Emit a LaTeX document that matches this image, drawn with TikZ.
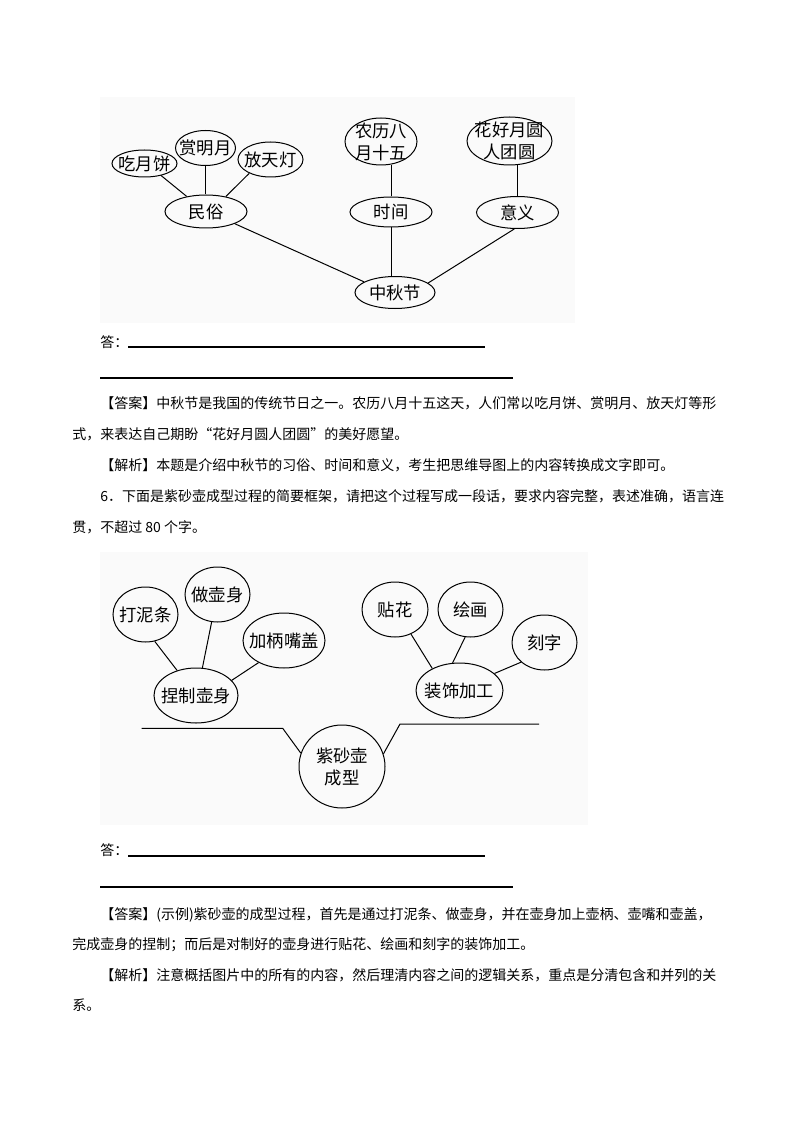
\documentclass[tikz,border=0pt]{standalone}
\usepackage{fontspec}
\usetikzlibrary{shapes.geometric}
\setmainfont{Noto Sans CJK SC}
\newdimen\pxu \pxu=0.75pt
\XeTeXlinebreaklocale "zh"
\XeTeXlinebreakskip=0pt plus 2pt
\definecolor{panelbg}{HTML}{FAFAFA}
\begin{document}
\begin{tikzpicture}[x=0.75pt,y=-0.75pt,
  ell/.style 2 args={draw, ellipse, line width=0.75pt, inner sep=0pt,
    minimum width=#1*0.75pt, minimum height=#2*0.75pt},
  every label/.style={align=center, inner sep=0pt,
    font=\fontsize{13pt}{16.5pt}\selectfont},
  link/.style={line width=0.75pt},
  txt/.style={anchor=west, inner sep=0pt, font=\fontsize{10.5pt}{12pt}\selectfont},
  uline/.style={line width=0.8pt}]
\useasboundingbox (0,0) rectangle (794,1123);
\fill[white] (0,0) rectangle (794,1123);
% ---------- panel 1 ----------
\fill[panelbg] (100,97) rectangle (575,323);
\node[ell={65}{27}, label=center:吃月饼] (chi) at (144.5,163.5) {};
\node[ell={60}{35}, label=center:赏明月] (shang) at (205.5,148) {};
\node[ell={65}{35}, label=center:放天灯] (fang) at (270.5,159.5) {};
\node[ell={82}{33}, label=center:民俗] (minsu) at (206,211.5) {};
\node[ell={72}{47}, label={center:农历八\\月十五}] (nongli) at (381,141.5) {};
\node[ell={82}{30}, label=center:时间] (shijian) at (391,212) {};
\node[ell={85}{48}, label={center:花好月圆\\人团圆}] (huahao) at (509.5,141) {};
\node[ell={82}{32}, label=center:意义] (yiyi) at (517.5,212.5) {};
\node[ell={80}{32}, label=center:中秋节] (zhongqiu) at (395,292.5) {};
\draw[link] (chi.-36) -- (minsu.142);
\draw[link] (shang.south) -- (shang.south |- minsu.north);
\draw[link] (fang.213) -- (minsu.37);
\draw[link] (shijian.north) -- (shijian.north |- nongli.south);
\draw[link] (yiyi.north) -- (yiyi.north |- huahao.south);
\draw[link] (minsu.-23) -- (zhongqiu.161);
\draw[link] (shijian.south) -- (shijian.south |- zhongqiu.north);
\draw[link] (yiyi.-101) -- (zhongqiu.16);
% ---------- text 1 ----------
\node[txt] (a1) at (100,342.5) {答：};
\coordinate (u1a) at (128,347);
\coordinate (u1b) at (485,347);
\draw[uline] (u1a) -- (u1b);
\coordinate (u2a) at (100,378);
\coordinate (u2b) at (512.5,378);
\draw[uline] (u2a) -- (u2b);
\node[txt] (t1) at (100,403.5) {\makebox[620\pxu][s]{【答案】中秋节是我国的传统节日之一。农历八月十五这天，人们常以吃月饼、赏明月、放天灯等形}};
\node[txt] (t2) at (72,434) {式，来表达自己期盼“花好月圆人团圆”的美好愿望。};
\node[txt] (t3) at (100,465) {【解析】本题是介绍中秋节的习俗、时间和意义，考生把思维导图上的内容转换成文字即可。};
\node[txt] (t4) at (100,496.5) {\makebox[620\pxu][s]{6．下面是紫砂壶成型过程的简要框架，请把这个过程写成一段话，要求内容完整，表述准确，语言连}};
\node[txt] (t5) at (72,527) {贯，不超过 80 个字。};
% ---------- panel 2 ----------
\fill[panelbg] (100,552) rectangle (588,825);
\node[ell={65}{55}, label=center:打泥条] (dani) at (145.5,614.5) {};
\node[ell={65}{55}, label=center:做壶身] (zuo) at (217.5,594.5) {};
\node[ell={82}{55}, label=center:加柄嘴盖] (jia) at (284,640.5) {};
\node[ell={84}{55}, label=center:捏制壶身] (nie) at (196,695.5) {};
\node[ell={66}{55}, label=center:贴花] (tie) at (395,609.5) {};
\node[ell={65}{55}, label=center:绘画] (hui) at (470.5,609.5) {};
\node[ell={65}{55}, label=center:刻字] (ke) at (544.5,642.5) {};
\node[ell={87}{55}, label=center:装饰加工] (zhuang) at (459.5,690.5) {};
\node[ell={86}{83}, label={center:紫砂壶\\成型}] (zisha) at (342,766.5) {};
\draw[link] (dani.-71) -- (nie.127);
\draw[link] (zuo.-102) -- (nie.77);
\draw[link] (jia.221) -- (nie.23);
\draw[link] (tie.-57) -- (zhuang.141);
\draw[link] (hui.-101) -- (zhuang.104);
\draw[link] (ke.220) -- (zhuang.26);
\coordinate (bl1) at (141.7,728.3);
\coordinate (bl2) at (282.7,728.3);
\coordinate (br2) at (400,724);
\coordinate (br1) at (539,724);
\draw[link] (bl1) -- (bl2) -- (zisha.162);
\draw[link] (zisha.17) -- (br2) -- (br1);
% ---------- text 2 ----------
\node[txt] (a2) at (100,850.5) {答：};
\coordinate (u3a) at (128,856);
\coordinate (u3b) at (485,856);
\draw[uline] (u3a) -- (u3b);
\coordinate (u4a) at (100,887);
\coordinate (u4b) at (512.5,887);
\draw[uline] (u4a) -- (u4b);
\node[txt] (s1) at (100,915) {\makebox[618\pxu][s]{【答案】(示例)紫砂壶的成型过程，首先是通过打泥条、做壶身，并在壶身加上壶柄、壶嘴和壶盖，}};
\node[txt] (s2) at (72,945) {完成壶身的捏制；而后是对制好的壶身进行贴花、绘画和刻字的装饰加工。};
\node[txt] (s3) at (100,975) {\makebox[621\pxu][s]{【解析】注意概括图片中的所有的内容，然后理清内容之间的逻辑关系，重点是分清包含和并列的关}};
\node[txt] (s4) at (72,1005) {系。};
\end{tikzpicture}
\end{document}
